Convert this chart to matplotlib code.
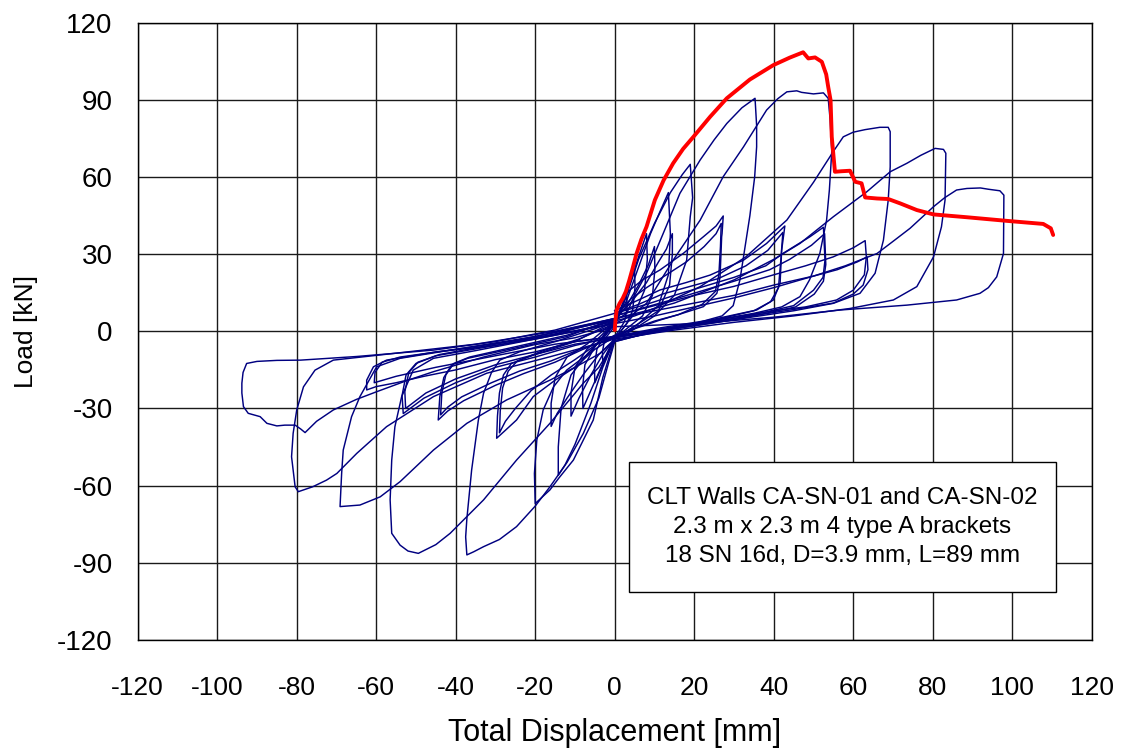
import matplotlib
matplotlib.use("Agg")
import matplotlib.pyplot as plt
from matplotlib.patches import Rectangle

# ============================================
# DATA
# ============================================

# monotonic test, CA-SN-01 (red)
mono_x = [0, 0.2, 0.5, 1.2, 2.0, 2.8, 3.6, 4.5, 5.5, 6.7, 8.0, 10.1, 12.3, 14.7,
          17.2, 19.8, 24.0, 28.2, 34.0, 39.9, 44.0, 47.4, 48.7, 50.4, 52.1, 53.2,
          53.7, 54.3, 54.6, 55.4, 57.0, 59.2, 60.5, 62.1, 63.0, 66.0, 68.8, 71.8,
          76.0, 80.2, 88.6, 98.6, 107.8, 109.7, 110.3]
mono_y = [0.5, 4.5, 8.3, 10.8, 12.8, 15.5, 19.5, 24.5, 30.3, 35.8, 40.7, 51.1,
          58.8, 65.4, 71.0, 75.7, 83.5, 90.7, 98.0, 103.6, 106.5, 108.6, 106.2,
          106.6, 104.9, 100.0, 95.2, 90.0, 75.7, 62.1, 62.3, 62.5, 58.2, 57.6,
          52.1, 51.7, 51.5, 49.8, 47.2, 45.5, 44.4, 43.0, 41.8, 40.1, 37.5]

# cyclic test, CA-SN-02 (blue), one list pair per cycle
c01_x = [0, 1.5, 3, 3.1, 2.5, 1, 0, -1.5, -3, -3.1, -2.5, -1, 0]
c01_y = [2, 8, 14, 9, 4, 0, -2, -7, -12, -8, -3, 0, 2]

c02_x = [0, 1.5, 3, 5, 5.1, 4.5, 3, 0, -1.5, -3, -5, -5.1, -4.5, -3, 0]
c02_y = [3, 9, 15, 24, 17, 8, 3, -3, -8, -13, -20, -14, -7, -3, 3]

c03_x = [0, 2, 4, 6, 8, 8.2, 7.5, 5, 2, 0, -2, -4, -6, -8, -8.1, -7.5, -5, -2, 0]
c03_y = [3, 10, 20, 29, 38, 28, 16, 7, 1, -3, -9, -16, -23, -30, -22, -13, -6, 0, 3]

c04_x = [0, 3, 6, 8.5, 10, 10.1, 9.5, 7, 3, 0, -3, -6, -9, -11, -11, -10, -7, -3, 0]
c04_y = [4, 10, 18, 26, 33, 24, 14, 6, 1, -3, -9, -17, -26, -33, -24, -14, -7, -1, 4]

c05_x = [0, 3, 6, 9, 11.5, 13.5, 14, 13.5, 11, 6, 0, -3, -6, -10, -12.5, -14.2,
         -14.2, -13.5, -11, -7, 0]
c05_y = [3, 12, 25, 38, 47, 54, 38, 22, 10, 3, -3, -14, -28, -44, -52, -56,
         -45, -30, -17, -9, 3]

c06_x = [0, 4, 8, 11, 13, 14.5, 14.5, 13.8, 11, 6, 0, -4, -8, -12, -14.5, -16,
         -16, -15, -12, -7, 0]
c06_y = [5, 11, 19, 27, 32, 38, 30, 18, 8, 3, -3, -9, -17, -26, -32, -37,
         -28, -18, -10, -5, 4]

c07_x = [0, 3, 6, 10, 14, 17, 19, 19.6, 19, 18.1, 15, 10, 4, 0, -3, -5.4, -10.4,
         -14, -16.3, -20, -20.2, -19.6, -18, -15.4, -12.1, -6, 0]
c07_y = [3, 14, 28, 42, 54, 61, 65, 52, 44.6, 27.7, 14, 6, 0, -3, -18, -34.5, -50.1,
         -57, -61.7, -67, -55.3, -42.3, -30.6, -21.6, -15.1, -8, 4]

c08_x = [0, 3, 5, 8, 12.2, 16.4, 21.5, 25, 28.2, 32, 35.3,
         35.7, 35.7, 35.2, 34, 32.5, 31.5, 29.8, 27, 20, 10, 0,
         -1.5, -4, -7.9, -12, -16.3, -20, -24.7, -29, -33, -35.5, -37.2,
         -37.5, -37.2, -36, -34.3, -33, -31, -28.9, -24, -15, -5, 0]
c08_y = [4, 7, 14, 22.6, 38.1, 53.7, 66.7, 74.5, 80.9, 87, 90.7,
         80, 71.8, 60, 45, 30, 20, 10, 6, 3, 0, -4,
         -12, -26, -39.7, -51, -60.5, -68, -76, -81, -83.8, -85.8, -87,
         -80, -73, -54, -34.5, -24.1, -16, -11.2, -8, -4, 1, 4]

c09_x = [0, 3.8, 7, 11.4, 17.3, 22.3, 25.5, 27.3,
         27, 26.9, 26.5, 25.7, 22.3, 16, 11.4, 5, 0,
         -5, -10, -15, -20.5, -24.7, -27.5, -29.7,
         -29.5, -29, -28, -26, -20, -10, 0]
c09_y = [8, 16.1, 20, 23.9, 30.4, 36.8, 41, 44.9,
         38, 36.8, 21.2, 14.8, 9.6, 6.5, 4.4, 1, -2,
         -7, -14, -19, -25.4, -34.5, -38.5, -41.6,
         -33, -24, -17, -12.5, -9, -4, 4]

c09b_x = [0, 4, 8, 12, 18, 22.5, 25.5, 26.8,
          26.6, 26.2, 25.3, 22, 16, 10, 0,
          -5, -10, -16, -21, -25, -27.5, -29,
          -28.8, -28.2, -26.8, -24.5, -18, -9, 0]
c09b_y = [6, 12.5, 17, 21, 27, 33, 38, 42,
          33, 22, 15.5, 10.5, 6.5, 4, -1.5,
          -5.5, -11, -17, -23, -30, -35, -39.5,
          -31, -22, -15.5, -11.5, -7.5, -3, 3]

c10_x = [0, 4, 8, 14.7, 21.5, 27.3, 32.4, 38.2, 41, 43.3, 45.8, 47, 50, 52.5, 53.7,
         54.2, 54.6, 54, 53.3, 51.6, 49, 46.6, 42, 35, 20, 10, 0,
         -4, -7.9, -16.3, -24.7, -33, -41.4, -45, -49.4, -52, -54, -56.1,
         -56.5, -56.1, -55.3, -53.6, -50.7, -45.6, -35, -20, -10, 0]
c10_y = [3, 6, 10.9, 27.7, 43.3, 60.2, 71.8, 86.1, 90.5, 93.2, 93.6, 93, 92.4, 92.8, 90.7,
         82.2, 70, 55, 43.3, 30.3, 20, 13.5, 9.5, 7, 3, 0, -4,
         -14, -20.2, -35.8, -50.1, -65.6, -78.6, -83, -86.4, -85.5, -83.2, -78.6,
         -65.6, -50.1, -37.1, -25.4, -15.1, -10.5, -7.5, -3, 0, 4]

c11_x = [0, 5, 11.4, 18, 24, 32.4, 38.2, 42.8,
         42, 41.6, 39.9, 35.7, 24, 10, 0,
         -8, -15, -23, -30, -38, -42, -44.4,
         -44, -43, -41, -37, -25, -12, 0]
c11_y = [8, 11.5, 16.1, 19, 21.9, 27.7, 34.2, 41,
         31.6, 18.7, 12.2, 8.3, 4.4, 1, -2,
         -7, -12, -16.5, -21, -27, -31, -34.5,
         -25.4, -18, -13, -10.5, -6.5, -2, 5]

c11b_x = [0, 6, 12, 19, 26, 33, 38.5, 42.3,
          41.8, 41.2, 39.2, 35, 24, 10, 0,
          -8, -16, -24, -31, -38.5, -42, -43.8,
          -43.5, -42.5, -40.5, -36.5, -25, -12, 0]
c11b_y = [7, 10.5, 14.5, 17.5, 20.5, 25.5, 31.5, 38.5,
          28, 17, 11.5, 8, 4, 0.5, -2.5,
          -6.5, -11.5, -15.5, -20, -25.5, -29.5, -32.5,
          -24, -17, -12.5, -10, -6, -1.5, 4.5]

c12_x = [0, 5, 10, 21.5, 33, 43.3, 50, 55, 57.5, 60, 63, 66.7, 68.8, 69.3,
         69.3, 68.8, 67.6, 65.5, 61.7, 55, 45, 30, 15, 0,
         -3.7, -10, -16.3, -27.2, -37.2, -45.6, -54, -59, -64.1, -69.1,
         -68.7, -68.3, -66.2, -64.1, -59.9, -54, -40, -20, 0]
c12_y = [4, 6, 9, 17.4, 29, 43.3, 58, 70, 75.7, 77.5, 78.5, 79.4, 79.4, 77.7,
         64, 51, 35.5, 22.6, 14.8, 10.9, 8, 4.5, 1, -3.5,
         -8.6, -14, -19, -26.7, -35.8, -46.2, -58.5, -64.4, -67.6, -68.2,
         -55.3, -46.2, -33.2, -25.4, -13.8, -10.5, -7, -2, 5]

c13_x = [0, 8, 15, 30, 38, 42.4, 49.1, 52.5,
         52.9, 52.4, 50, 45, 38, 30, 15, 0,
         -10, -20, -30, -40, -48, -53.2,
         -53.5, -52.5, -50, -45, -30, -15, 0]
c13_y = [7, 10.5, 14, 21, 25.5, 30.4, 36.8, 40.5,
         27.7, 21, 16, 10, 7.5, 5, 1.5, -2,
         -5.5, -10, -14, -20, -26, -32,
         -25, -17, -12.5, -9.5, -5.5, -1, 5]

c13b_x = [0, 8, 16, 30, 39, 44, 49.5, 52.8,
          53.1, 52.5, 50.2, 45.5, 38, 30, 15, 0,
          -10, -20, -30, -40, -47.5, -52.6,
          -52.8, -51.8, -49.5, -44, -30, -15, 0]
c13b_y = [6, 9.5, 13, 19.5, 24, 28, 33.5, 38,
          26, 19.5, 14.5, 9.5, 7, 4.5, 1, -2.5,
          -5, -9, -13, -18.5, -24, -30,
          -23.5, -16, -12, -9, -5, -0.5, 4.5]

c14_x = [0, 8, 15, 30, 40, 46.6, 55, 63.4, 69.3, 73.5, 77, 80.6, 82.7, 83.3,
         83.1, 82.2, 80.2, 76, 70.1, 59.2, 45, 30, 15, 0,
         -16.3, -32.2, -45.6, -57.4, -64.9, -69.9, -72.5, -76, -79.6,
         -80.4, -81.3, -80.9, -80, -78.3, -75.4, -70.8, -55, -35, -15, 0]
c14_y = [5, 8, 11, 20, 28, 34.2, 44.6, 54.3, 62.1, 65.4, 68.5, 71.2, 70.8, 69.3,
         51.1, 40.7, 29, 17.4, 12.2, 8.9, 6, 3.5, 0.5, -3,
         -9.9, -16.3, -25.4, -37.1, -47.5, -55.3, -57.9, -60.5, -62.4,
         -60.5, -48.8, -39.7, -30.6, -21.6, -15.1, -11.2, -8.5, -5, 0, 5]

c15_x = [0, 10, 20, 30, 40, 48, 55, 60, 63,
         63.3, 62.8, 60, 55.8, 48, 40, 20, 0,
         -10, -20, -30, -40, -48, -55, -60, -62.4,
         -62.4, -60.7, -57.4, -45, -30, -20, 0]
c15_y = [6, 10, 14, 17.5, 22, 25.5, 29, 32.5, 35.3,
         29, 22, 16, 12.2, 9.5, 8, 3, -2,
         -4, -8, -11, -15, -17.5, -20, -21.5, -22.8,
         -19, -13.8, -11.2, -8, -5.5, -3, 3]

c16_x = [0, 10, 20, 30, 40, 50, 56, 61, 63.5,
         63.7, 62.5, 60, 55, 45, 30, 15, 0,
         -15, -30, -45, -55, -60.5,
         -60.3, -58.5, -54, -40, -20, 0]
c16_y = [5, 8, 11, 14, 18, 21.5, 24, 27, 29,
         24, 18, 14.5, 11, 8.5, 5, 1.5, -2,
         -5, -9.5, -14, -17.5, -20,
         -16, -12, -10, -7, -2.5, 3]

c17_x = [0, 10, 20, 30, 40, 50, 58, 66, 70, 74.3, 80.2, 83, 86, 88.6, 92, 94, 96.9, 97.9,
         97.8, 96.1, 94, 91.9, 86, 73.5, 56.7, 40, 20, 0,
         -10, -20.5, -33, -45.6, -52, -59.9, -65, -70.8, -75, -77.9, -79, -80.4, -83,
         -85, -87.5, -89.2, -92.2, -93.4, -93.8, -93.8,
         -93.5, -92.6, -90, -85, -79, -65, -45.6, -30, -15, 0]
c17_y = [3, 6, 9.5, 13, 17, 21.5, 25.5, 30.3, 35, 40.1, 48.5, 52, 55, 55.6, 55.8, 55.3, 54.7, 53,
         30.3, 21.2, 17, 14.8, 12.2, 10.2, 8.3, 5.5, 3, 1.8,
         -2.5, -5.3, -10, -15.7, -19, -23.5, -26.5, -30.6, -35, -39.4, -38, -36.5, -36.5,
         -36.8, -35.8, -33.2, -31.9, -29.3, -24, -20.2,
         -16, -12.5, -11.7, -11.3, -11.2, -9.8, -7.3, -4, 0.5, 7]

cycles = [(c01_x, c01_y), (c02_x, c02_y), (c03_x, c03_y), (c04_x, c04_y),
          (c05_x, c05_y), (c06_x, c06_y), (c07_x, c07_y), (c08_x, c08_y),
          (c09_x, c09_y), (c09b_x, c09b_y), (c10_x, c10_y), (c11_x, c11_y),
          (c11b_x, c11b_y), (c12_x, c12_y), (c13_x, c13_y), (c13b_x, c13b_y),
          (c14_x, c14_y), (c15_x, c15_y), (c16_x, c16_y), (c17_x, c17_y)]

x_ticks = list(range(-120, 121, 20))
y_ticks = list(range(-120, 121, 30))

note_lines = ["CLT Walls CA-SN-01 and CA-SN-02",
              "2.3 m x 2.3 m 4 type A brackets",
              "18 SN 16d, D=3.9 mm, L=89 mm"]

# ============================================
# PLOT
# ============================================

plt.rcParams["font.family"] = ["Liberation Sans", "DejaVu Sans"]
plt.rcParams["axes.unicode_minus"] = False

fig = plt.figure(figsize=(11.27, 7.51), dpi=100)
ax = fig.add_axes([0.1222, 0.1482, 0.8465, 0.8212])

for cx, cy in cycles:
    ax.plot(cx, cy, color="#000080", lw=1.05, solid_joinstyle="round", zorder=3)

ax.plot(mono_x, mono_y, color="#ff0000", lw=2.8, solid_joinstyle="round",
        solid_capstyle="round", zorder=4)

ax.set_xlim(-120, 120)
ax.set_ylim(-120, 120)
ax.set_xticks(x_ticks)
ax.set_yticks(y_ticks)
ax.grid(True, color="#1a1a1a", lw=1.0, zorder=1)
ax.set_axisbelow(True)
ax.tick_params(axis="both", length=0)
ax.tick_params(axis="x", labelsize=19, pad=26)
ax.tick_params(axis="y", labelsize=20, pad=18)
for s in ax.spines.values():
    s.set_color("black")
    s.set_linewidth(1.0)

ax.set_xlabel("Total Displacement [mm]", fontsize=22, labelpad=13)
ax.set_ylabel("Load [kN]", fontsize=19, labelpad=14)

# note box
ax.add_patch(Rectangle((3.6, -101.4), 107.4, 50.5, facecolor="white",
                       edgecolor="black", lw=1.0, zorder=5))
ax.text(57.3, -76.2, "\n".join(note_lines), ha="center", va="center",
        fontsize=17.5, linespacing=1.4, zorder=6)

plt.savefig("out.png", dpi=100)
plt.close()
